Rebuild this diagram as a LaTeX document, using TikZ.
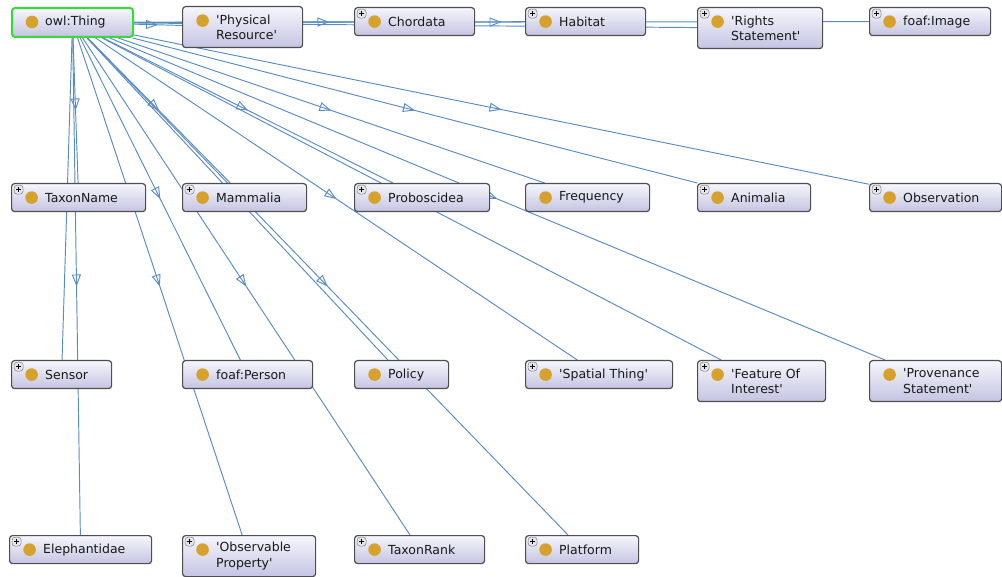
\documentclass[tikz,border=0pt]{standalone}
\usepackage{fontspec}
\setmainfont{DejaVu Sans}[Ligatures=TeXOff]
\usetikzlibrary{arrows.meta,decorations.markings,backgrounds}
\definecolor{edgecol}{RGB}{88,140,195}
\definecolor{dotcol}{RGB}{214,162,44}
\definecolor{boxtop}{RGB}{246,246,252}
\definecolor{boxbot}{RGB}{196,196,226}
\definecolor{boxline}{RGB}{78,78,78}
\definecolor{thinggreen}{RGB}{52,220,52}
\definecolor{plusfill}{RGB}{228,228,236}
\tikzset{
  cls/.style={draw=boxline, line width=1.2pt, rounded corners=3pt,
    top color=boxtop, bottom color=boxbot, anchor=north west,
    inner sep=0pt, minimum height=28pt,
    path picture={\fill[dotcol] ([xshift=20pt,yshift=-14pt]path picture bounding box.north west) circle (6.3pt);}},
  clsplus/.style={cls,
    path picture={
      \fill[dotcol] ([xshift=20pt,yshift=-14pt]path picture bounding box.north west) circle (6.3pt);
      \draw[draw=gray, fill=plusfill, line width=0.5pt] ([xshift=2.5pt,yshift=-1.5pt]path picture bounding box.north west) rectangle ++(9pt,-9pt);
      \draw[black, line width=0.8pt] ([xshift=4.5pt,yshift=-6pt]path picture bounding box.north west) -- ++(5pt,0pt)
        ([xshift=7pt,yshift=-3.5pt]path picture bounding box.north west) -- ++(0pt,-5pt);
    }},
  thingbox/.style={cls, draw=thinggreen, line width=2pt},
  lbl/.style={anchor=west, xshift=34pt, inner sep=0pt, align=left, text=black!90,
    font=\fontsize{12.5}{15.5}\selectfont},
  isa/.style={draw=edgecol, line width=0.95pt, postaction={decorate},
    decoration={markings, mark=at position 0.5 with {\arrow[edgecol, line width=0.95pt]{Triangle[open, length=12pt, width=9pt]}}}},
}
\begin{document}
\begin{tikzpicture}[x=1pt, y=-1pt]
\useasboundingbox (0,0) rectangle (1002,577);
% row 1
\node[thingbox, minimum width=121pt, minimum height=29pt, label={[lbl]west:{owl:Thing}}] (thing) at (11,7) {};
\node[cls, minimum width=120pt, minimum height=41pt, label={[lbl]west:{'Physical\\Resource'}}] (physres) at (182,6) {};
\node[clsplus, minimum width=120pt, label={[lbl]west:{Chordata}}] (chordata) at (354,7) {};
\node[clsplus, minimum width=120pt, label={[lbl]west:{Habitat}}] (habitat) at (525,7) {};
\node[clsplus, minimum width=125pt, minimum height=41pt, label={[lbl]west:{'Rights\\Statement'}}] (rights) at (697,7) {};
\node[clsplus, minimum width=121pt, label={[lbl]west:{foaf:Image}}] (image) at (869,7) {};
% row 2
\node[clsplus, minimum width=134pt, label={[lbl]west:{TaxonName}}] (taxonname) at (11,183) {};
\node[clsplus, minimum width=124pt, label={[lbl]west:{Mammalia}}] (mammalia) at (182,183) {};
\node[clsplus, minimum width=135pt, label={[lbl]west:{Proboscidea}}] (proboscidea) at (354,183) {};
\node[cls, minimum width=124pt, label={[lbl]west:{Frequency}}] (frequency) at (525,183) {};
\node[clsplus, minimum width=113pt, label={[lbl]west:{Animalia}}] (animalia) at (697,183) {};
\node[clsplus, minimum width=132pt, label={[lbl]west:{Observation}}] (observation) at (869,183) {};
% row 3
\node[clsplus, minimum width=100pt, label={[lbl]west:{Sensor}}] (sensor) at (11,360) {};
\node[cls, minimum width=130pt, label={[lbl]west:{foaf:Person}}] (person) at (182,360) {};
\node[cls, minimum width=94pt, label={[lbl]west:{Policy}}] (policy) at (354,360) {};
\node[clsplus, minimum width=147pt, label={[lbl]west:{'Spatial Thing'}}] (spatial) at (525,360) {};
\node[clsplus, minimum width=128pt, minimum height=41pt, label={[lbl]west:{'Feature Of\\Interest'}}] (foi) at (697,360) {};
\node[cls, minimum width=132pt, minimum height=41pt, label={[lbl]west:{'Provenance\\Statement'}}] (prov) at (869,360) {};
% row 4
\node[clsplus, minimum width=142pt, label={[lbl]west:{Elephantidae}}] (elephantidae) at (9,535) {};
\node[clsplus, minimum width=133pt, minimum height=41pt, label={[lbl]west:{'Observable\\Property'}}] (obsprop) at (182,535) {};
\node[clsplus, minimum width=130pt, label={[lbl]west:{TaxonRank}}] (taxonrank) at (354,535) {};
\node[clsplus, minimum width=113pt, label={[lbl]west:{Platform}}] (platform) at (525,535) {};
% edges
\begin{scope}[on background layer]
\foreach \n in {physres,chordata,habitat,rights,image,taxonname,mammalia,proboscidea,frequency,animalia,observation,sensor,person,policy,spatial,foi,prov,elephantidae,obsprop,taxonrank,platform}
  \draw[isa] (thing) -- (\n);
\end{scope}
\end{tikzpicture}
\end{document}
